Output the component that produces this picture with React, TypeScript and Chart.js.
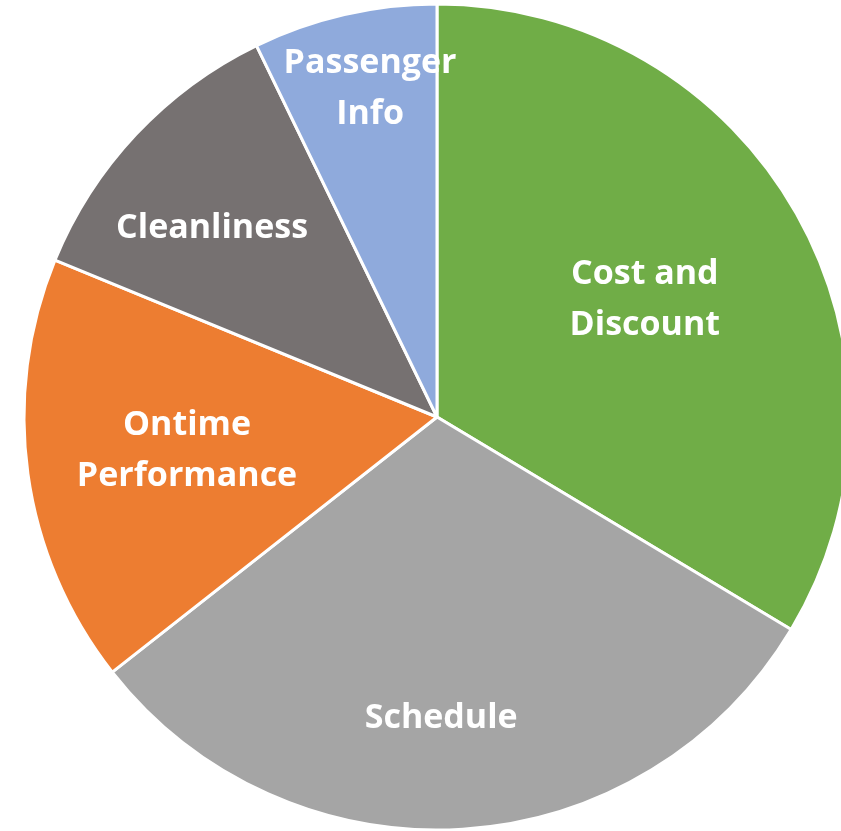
import React, { useEffect, useRef } from "react";
import { Chart, registerables } from "chart.js";

Chart.register(...registerables);

const categories: string[][] = [
  ["Cost and", "Discount"],
  ["Schedule"],
  ["Ontime", "Performance"],
  ["Cleanliness"],
  ["Passenger", "Info"],
];
const shares: number[] = [33.6, 30.8, 16.8, 11.6, 7.2];
const sliceColors: string[] = ["#70AD47", "#A5A5A5", "#ED7D31", "#767171", "#8FAADC"];
// label placement (style): distance from centre as fraction of radius, and angular nudge in degrees
const labelRadial: number[] = [0.58, 0.724, 0.61, 0.714, 0.816];
const labelNudgeDeg: number[] = [-0.3, 2.8, 0.8, -2.9, 1.5];

const labelPlugin = {
  id: "sliceLabels",
  afterDatasetsDraw(chart: any) {
    const ctx = chart.ctx as CanvasRenderingContext2D;
    const meta = chart.getDatasetMeta(0);
    ctx.save();
    ctx.fillStyle = "#FFFFFF";
    ctx.font = "bold 34px 'Open Sans'";
    ctx.textAlign = "center";
    ctx.textBaseline = "alphabetic";
    const lineH = 51;
    const capH = 24;
    meta.data.forEach((arc: any, i: number) => {
      const p = arc.getProps(["x", "y", "startAngle", "endAngle", "outerRadius"], true);
      const mid = (p.startAngle + p.endAngle) / 2 + (labelNudgeDeg[i] * Math.PI) / 180;
      const r = p.outerRadius * labelRadial[i];
      const cx = p.x + Math.cos(mid) * r;
      const cy = p.y + Math.sin(mid) * r;
      const lines = categories[i];
      lines.forEach((t, j) => {
        const y = cy + (j - (lines.length - 1) / 2) * lineH + capH / 2;
        ctx.fillText(t, cx, y);
      });
    });
    ctx.restore();
  },
};

export default function App() {
  const ref = useRef<HTMLCanvasElement | null>(null);
  useEffect(() => {
    document.body.style.margin = "0";
    document.body.style.overflow = "hidden";
    const canvas = ref.current!;
    const chart = new Chart(canvas, {
      type: "pie",
      data: {
        labels: categories.map((c) => c.join(" ")),
        datasets: [
          {
            data: shares,
            backgroundColor: sliceColors,
            borderColor: "#FFFFFF",
            borderWidth: 3,
          },
        ],
      },
      options: {
        responsive: false,
        animation: false,
        devicePixelRatio: 1,
        radius: 413,
        layout: { padding: 0 },
        plugins: {
          legend: { display: false },
          tooltip: { enabled: false },
        },
      },
      plugins: [labelPlugin],
    });
    return () => chart.destroy();
  }, []);
  return (
    <div style={{ position: "fixed", left: 0, top: 0, width: 874, height: 834, background: "#fff" }}>
      <canvas ref={ref} width={874} height={834} style={{ display: "block", width: 874, height: 834 }} />
    </div>
  );
}
